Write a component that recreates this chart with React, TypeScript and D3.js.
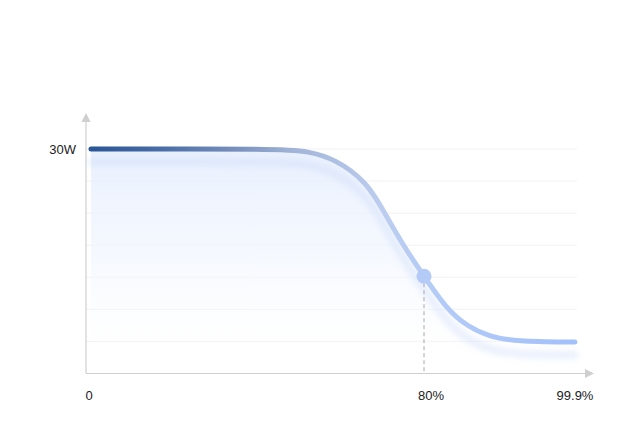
import React from "react";
import * as d3 from "d3";

// Data: power (W) versus battery percentage (%)
const percents = [0, 46, 52, 58.6, 66.3, 70.6, 75, 80, 83, 85.7, 88.7, 92, 99.9];
const watts = [30, 30, 29.7, 28.7, 25.6, 21.4, 17.1, 13.0, 8.6, 6.3, 4.9, 4.3, 4.2];
const xTickValues = [0, 80, 99.9];
const xTickLabels = ["0", "80%", "99.9%"];
const yTickValues = [30];
const yTickLabels = ["30W"];
const markerPercent = 80;
const gridCount = 7;

const W = 628;
const H = 432;
const axisX = 86;
const axisY = 373.5;
const plotLeft = 91;
const plotRight = 575;
const topY = 149;

export default function App() {
  const x = d3
    .scaleLinear()
    .domain([0, 80, 99.9])
    .range([plotLeft, 424, plotRight]);
  const y = d3.scaleLinear().domain([0, 30]).range([axisY, topY]);

  const data = percents.map((p, i) => ({ p, w: watts[i] }));
  const curve = d3.curveBasis;
  const line = d3
    .line<{ p: number; w: number }>()
    .x((d) => x(d.p))
    .y((d) => y(d.w))
    .curve(curve);
  const area = d3
    .area<{ p: number; w: number }>()
    .x((d) => x(d.p))
    .y0(axisY)
    .y1((d) => y(d.w))
    .curve(curve);

  const gridYs = d3.range(gridCount).map((i) => topY + (i * (axisY - topY)) / gridCount);
  const markerW = watts[percents.indexOf(markerPercent)];
  const mx = x(markerPercent);
  const my = y(markerW);

  const labelDx = (v: number) => (v === 80 ? 7 : v === 0 ? -2 : 0);

  return (
    <svg
      width={W}
      height={H}
      style={{ position: "absolute", left: 0, top: 0, background: "#fff" }}
      fontFamily="'Liberation Sans', Arial, sans-serif"
    >
      <defs>
        <linearGradient id="lineGrad" gradientUnits="userSpaceOnUse" x1={plotLeft} x2={plotRight} y1={0} y2={0}>
          <stop offset="0" stopColor="#2a5596" />
          <stop offset="0.15" stopColor="#4a6ea8" />
          <stop offset="0.3" stopColor="#7890bd" />
          <stop offset="0.42" stopColor="#a2b5d8" />
          <stop offset="0.6" stopColor="#bccdef" />
          <stop offset="0.72" stopColor="#b3cbf7" />
          <stop offset="1" stopColor="#a2c0fb" />
        </linearGradient>
        <linearGradient id="areaGrad" x1="0" x2="0" y1="0" y2="1">
          <stop offset="0" stopColor="#e6eefd" stopOpacity={0.9} />
          <stop offset="0.5" stopColor="#f0f5fe" stopOpacity={0.6} />
          <stop offset="1" stopColor="#ffffff" stopOpacity={0} />
        </linearGradient>
        <filter id="blur" x="-10%" y="-20%" width="120%" height="140%">
          <feGaussianBlur stdDeviation="3" />
        </filter>
      </defs>

      {/* grid */}
      {gridYs.map((gy, i) => (
        <line key={i} x1={axisX} x2={577} y1={gy} y2={gy} stroke="#f1f2f4" strokeWidth={1} />
      ))}

      {/* area */}
      <path d={area(data) || ""} fill="url(#areaGrad)" />

      {/* shadow line */}
      <path
        d={line(data) || ""}
        transform="translate(0,13)"
        fill="none"
        stroke="#c9daf9"
        strokeWidth={7}
        strokeOpacity={0.45}
        strokeLinecap="round"
        filter="url(#blur)"
      />

      {/* axes */}
      <line x1={axisX} x2={axisX} y1={axisY} y2={121} stroke="#cfcfcf" strokeWidth={1.2} />
      <path d={`M${axisX - 4.5},${122} L${axisX},${113} L${axisX + 4.5},${122} Z`} fill="#cfcfcf" />
      <line x1={axisX} x2={586} y1={axisY} y2={axisY} stroke="#cfcfcf" strokeWidth={1.2} />
      <path d={`M${585},${axisY - 4.5} L${594},${axisY} L${585},${axisY + 4.5} Z`} fill="#cfcfcf" />

      {/* marker dashed line */}
      <line x1={mx} x2={mx} y1={my} y2={axisY} stroke="#a8a8a8" strokeWidth={1} strokeDasharray="4 3" />

      {/* main line */}
      <path
        d={line(data) || ""}
        fill="none"
        stroke="url(#lineGrad)"
        strokeWidth={5}
        strokeLinecap="round"
      />

      {/* marker */}
      <circle cx={mx} cy={my} r={7.5} fill="#b4cbf7" />

      {/* y labels */}
      {yTickValues.map((v, i) => (
        <text key={i} x={76} y={y(v)} dy="0.35em" textAnchor="end" fontSize={13} fill="#222">
          {yTickLabels[i]}
        </text>
      ))}

      {/* x labels */}
      {xTickValues.map((v, i) => (
        <text key={i} x={x(v) + labelDx(v)} y={400} textAnchor="middle" fontSize={13} fill="#222">
          {xTickLabels[i]}
        </text>
      ))}
    </svg>
  );
}
